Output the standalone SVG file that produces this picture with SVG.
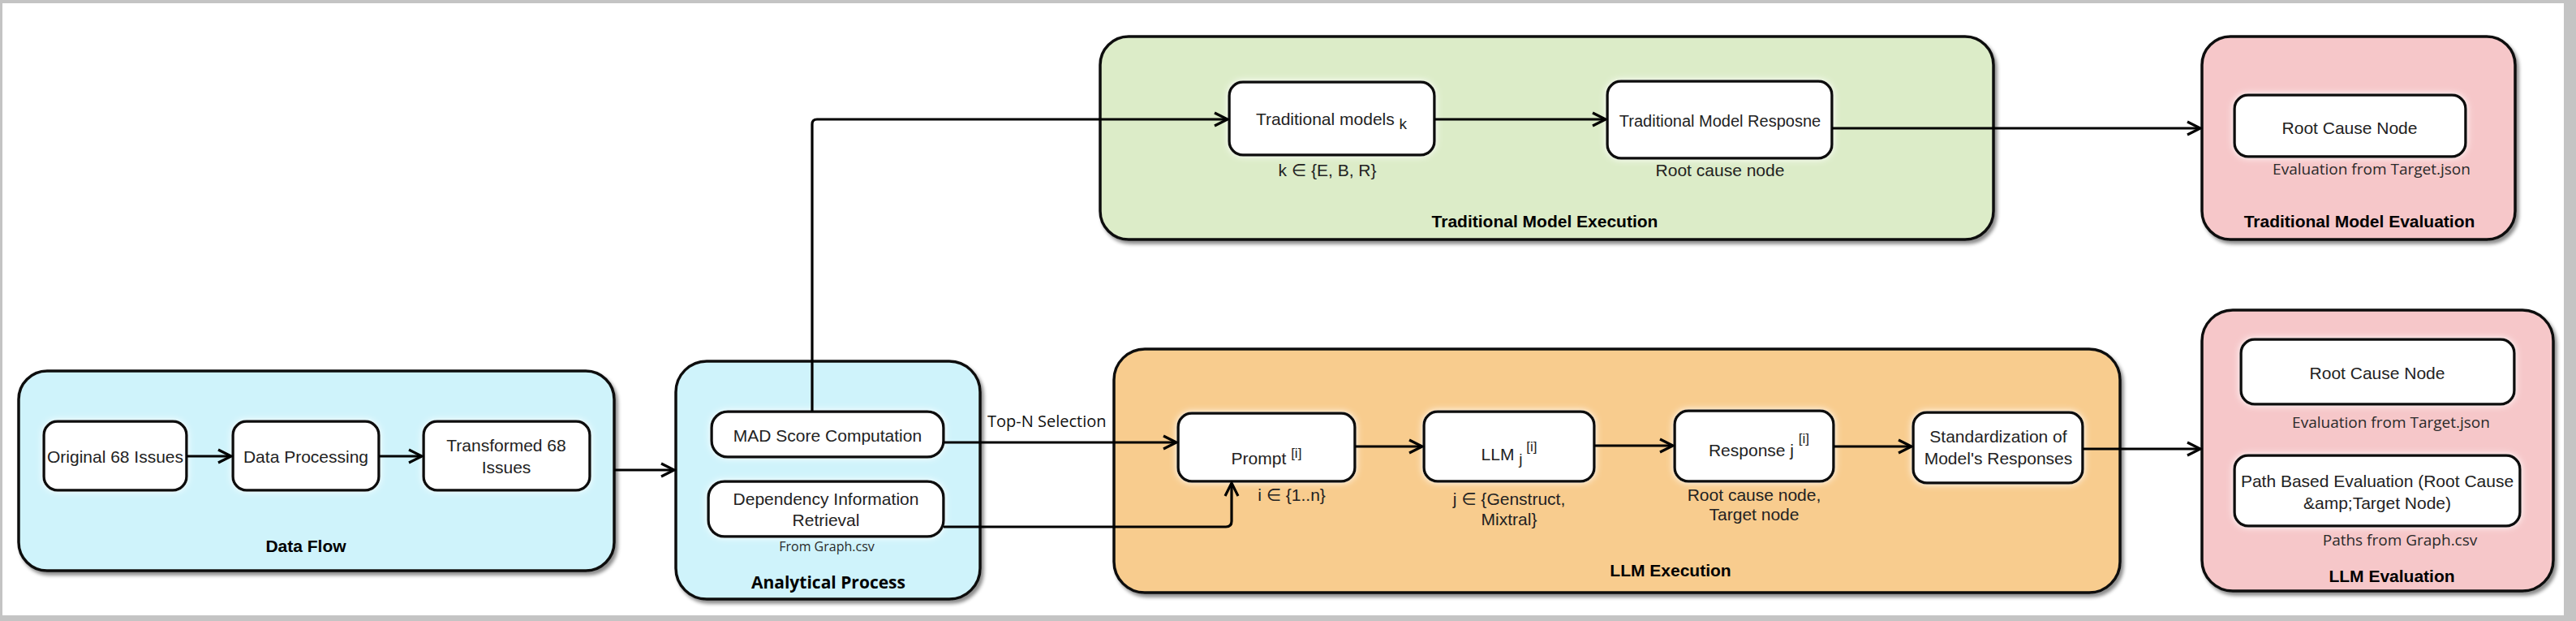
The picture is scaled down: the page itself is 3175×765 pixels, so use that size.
<svg xmlns="http://www.w3.org/2000/svg" width="3175" height="765" viewBox="0 0 3175 765">
<defs>
<style>
.frame{fill:#c4c4c4}
.cont{stroke:#111;stroke-width:3.5;filter:url(#shadow)}
.blue{fill:#cff3fb}
.green{fill:#dcecc8}
.orange{fill:#f8cc8e}
.pink{fill:#f6c7c9}
.box{fill:#fff;stroke:#111;stroke-width:3.5;filter:url(#glow)}
.lbl{font-family:"Liberation Sans",Arial,"DejaVu Sans",sans-serif;font-size:21px;fill:#222;text-anchor:middle}
.ttl{font-family:"Liberation Sans",Arial,sans-serif;font-size:21px;font-weight:bold;fill:#000;text-anchor:middle}
.os{font-family:"Open Sans","DejaVu Sans",sans-serif;fill:#2a2a2a;text-anchor:middle}
.sup{font-size:17px}
.conn{fill:none;stroke:#000;stroke-width:3.2;stroke-linejoin:round}
</style>
<filter id="shadow" x="-5%" y="-5%" width="110%" height="115%">
<feDropShadow dx="3" dy="4" stdDeviation="2" flood-color="#000" flood-opacity="0.45"/>
</filter>
<filter id="glow" x="-10%" y="-20%" width="120%" height="140%">
<feDropShadow dx="0" dy="0" stdDeviation="4" flood-color="#fff" flood-opacity="0.95"/>
</filter>
<marker id="arr" markerUnits="userSpaceOnUse" markerWidth="22" markerHeight="22" viewBox="0 0 22 22" refX="19" refY="11" orient="auto">
<path d="M3,3 L19,11 L3,19" fill="none" stroke="#000" stroke-width="3.2" stroke-linejoin="miter"/>
</marker>
</defs>

<g id="background">
<rect class="frame" x="0" y="0" width="3175" height="765"/>
<rect x="3" y="4" width="3157" height="754" fill="#fff"/>
</g>

<g id="data-flow">
<rect class="cont blue" x="23" y="457" width="734" height="246" rx="35"/>
<text class="ttl" x="377" y="680">Data Flow</text>
</g>
<g id="original-68-issues">
<rect class="box" x="54" y="519" width="176" height="85" rx="17"/>
<text class="lbl" x="142" y="570">Original 68 Issues</text>
</g>
<g id="data-processing">
<rect class="box" x="287" y="519" width="180" height="85" rx="17"/>
<text class="lbl" x="377" y="570">Data Processing</text>
</g>
<g id="transformed-68-issues">
<rect class="box" x="522" y="519" width="205" height="85" rx="17"/>
<text class="lbl" x="624" y="556">Transformed 68</text>
<text class="lbl" x="624" y="583">Issues</text>
</g>

<g id="analytical-process">
<rect class="cont blue" x="833" y="445" width="375" height="293" rx="38"/>
<text class="os" x="1021" y="725" style="font-size:21px;font-weight:bold;fill:#000">Analytical Process</text>
</g>
<g id="mad-score">
<rect class="box" x="877" y="507" width="286" height="56" rx="20"/>
<text class="lbl" x="1020" y="544">MAD Score Computation</text>
</g>
<g id="dependency-info">
<rect class="box" x="873" y="593" width="290" height="68" rx="20"/>
<text class="lbl" x="1018" y="622">Dependency Information</text>
<text class="lbl" x="1018" y="648">Retrieval</text>
<text class="os" x="1019" y="679" style="font-size:16px">From Graph.csv</text>
</g>

<g id="traditional-model-execution">
<rect class="cont green" x="1356" y="45" width="1101" height="250" rx="35"/>
<text class="ttl" x="1904" y="280">Traditional Model Execution</text>
</g>
<g id="traditional-models">
<rect class="box" x="1515" y="101" width="253" height="90" rx="17"/>
<text class="lbl" x="1641" y="154">Traditional models <tspan dy="5" style="font-size:19px">k</tspan></text>
<text class="lbl" x="1636" y="217">k ∈ {E, B, R}</text>
</g>
<g id="traditional-model-response">
<rect class="box" x="1981" y="100" width="277" height="95" rx="17"/>
<text class="lbl" x="2120" y="156" style="font-size:20px">Traditional Model Resposne</text>
<text class="lbl" x="2120" y="217">Root cause node</text>
</g>

<g id="llm-execution">
<rect class="cont orange" x="1373" y="430" width="1240" height="300" rx="38"/>
<text class="ttl" x="2059" y="710">LLM Execution</text>
</g>
<g id="prompt">
<rect class="box" x="1452" y="509" width="218" height="84" rx="17"/>
<text class="lbl" x="1561" y="572">Prompt <tspan class="sup" dy="-8">[i]</tspan></text>
<text class="lbl" x="1592" y="617">i ∈ {1..n}</text>
</g>
<g id="llm">
<rect class="box" x="1755" y="507" width="210" height="86" rx="17"/>
<text class="lbl" x="1860" y="567">LLM <tspan dy="5" style="font-size:19px">j</tspan><tspan class="sup" dy="-16"> [i]</tspan></text>
<text class="lbl" x="1860" y="622">j ∈ {Genstruct,</text>
<text class="lbl" x="1860" y="647">Mixtral}</text>
</g>
<g id="response">
<rect class="box" x="2064" y="506" width="196" height="87" rx="17"/>
<text class="lbl" x="2168" y="562">Response j <tspan class="sup" dy="-16">[i]</tspan></text>
<text class="lbl" x="2162" y="617">Root cause node,</text>
<text class="lbl" x="2162" y="641">Target node</text>
</g>
<g id="standardization">
<rect class="box" x="2358" y="508" width="209" height="87" rx="17"/>
<text class="lbl" x="2463" y="545">Standardization of</text>
<text class="lbl" x="2463" y="572">Model's Responses</text>
</g>

<g id="traditional-model-evaluation">
<rect class="cont pink" x="2714" y="45" width="386" height="250" rx="35"/>
<text class="ttl" x="2908" y="280">Traditional Model Evaluation</text>
</g>
<g id="trad-root-cause-node">
<rect class="box" x="2754" y="117" width="285" height="76" rx="17"/>
<text class="lbl" x="2896" y="165">Root Cause Node</text>
<text class="os" x="2923" y="215" style="font-size:19px">Evaluation from Target.json</text>
</g>

<g id="llm-evaluation">
<rect class="cont pink" x="2714" y="382" width="433" height="346" rx="38"/>
<text class="ttl" x="2948" y="717">LLM Evaluation</text>
</g>
<g id="llm-root-cause-node">
<rect class="box" x="2762" y="418" width="337" height="80" rx="17"/>
<text class="lbl" x="2930" y="467">Root Cause Node</text>
<text class="os" x="2947" y="527" style="font-size:19px">Evaluation from Target.json</text>
</g>
<g id="path-based-evaluation">
<rect class="box" x="2754" y="561" width="352" height="87" rx="17"/>
<text class="lbl" x="2930" y="600">Path Based Evaluation (Root Cause</text>
<text class="lbl" x="2930" y="627">&amp;amp;Target Node)</text>
<text class="os" x="2958" y="672" style="font-size:19px">Paths from Graph.csv</text>
</g>

<g id="connectors">
<path class="conn" d="M230,562 L285,562" marker-end="url(#arr)"/>
<path class="conn" d="M467,562 L520,562" marker-end="url(#arr)"/>
<path class="conn" d="M757,579 L831,579" marker-end="url(#arr)"/>
<path class="conn" d="M1001,507 L1001,153 Q1001,147 1007,147 L1513,147" marker-end="url(#arr)"/>
<path class="conn" d="M1768,147 L1979,147" marker-end="url(#arr)"/>
<path class="conn" d="M2258,158 L2712,158" marker-end="url(#arr)"/>
<path class="conn" d="M1163,545 L1450,545" marker-end="url(#arr)"/>
<text class="os" x="1217" y="526" style="font-size:20px;text-anchor:start;fill:#111">Top-N Selection</text>
<path class="conn" d="M1163,649 L1511,649 Q1518,649 1518,642 L1518,595" marker-end="url(#arr)"/>
<path class="conn" d="M1670,550 L1753,550" marker-end="url(#arr)"/>
<path class="conn" d="M1965,549 L2062,549" marker-end="url(#arr)"/>
<path class="conn" d="M2260,550 L2356,550" marker-end="url(#arr)"/>
<path class="conn" d="M2567,553 L2712,553" marker-end="url(#arr)"/>
</g>
</svg>
